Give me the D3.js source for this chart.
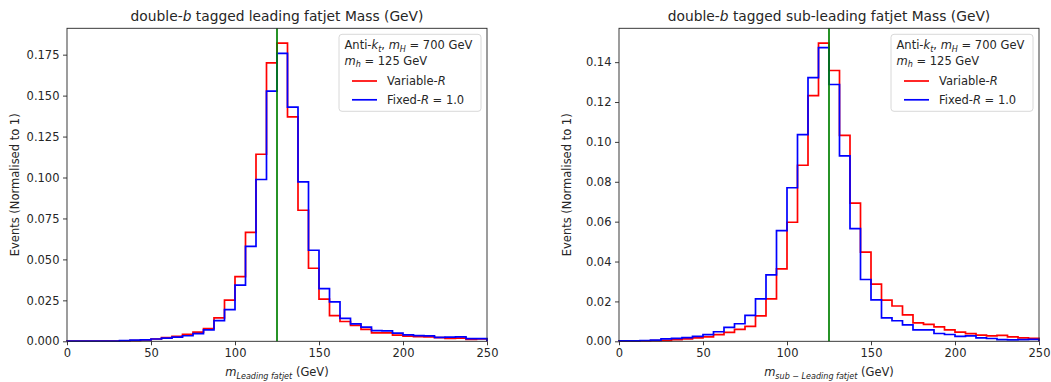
<!DOCTYPE html>
<html>
<head>
<meta charset="utf-8">
<script src="https://cdn.jsdelivr.net/npm/d3@7"></script>
<style>
  body { margin: 0; background: #fff; }
  text { font-family: "DejaVu Sans", sans-serif; fill: #262626; white-space: pre; }
</style>
</head>
<body>
<script>
const width = 1051;
const height = 382;

// histogram: 40 bins of 6.25 GeV from 0 to 250
const binWidth = 6.25;
const xTicks = [0, 50, 100, 150, 200, 250];
const higgsMass = 125;

const leadingVarR = [
  0.0001, 0.0001, 0.0001, 0.0001, 0.0001,
  0.0002, 0.0004, 0.0008, 0.0014, 0.0022,
  0.0030, 0.0042, 0.0056, 0.0078, 0.0143,
  0.0251, 0.0395, 0.0665, 0.1142, 0.1700,
  0.1820, 0.1370, 0.0800, 0.0446, 0.0258,
  0.0157, 0.0121, 0.0097, 0.0073, 0.0052,
  0.0052, 0.0038, 0.0032, 0.0029, 0.0027,
  0.0022, 0.0018, 0.0019, 0.0012, 0.0014
];
const leadingFixedR = [
  0.0001, 0.0001, 0.0001, 0.0001, 0.0001,
  0.0004, 0.0007, 0.0009, 0.0014, 0.0019,
  0.0025, 0.0034, 0.0047, 0.0070, 0.0126,
  0.0193, 0.0343, 0.0580, 0.0988, 0.1527,
  0.1758, 0.1430, 0.0973, 0.0556, 0.0322,
  0.0241, 0.0140, 0.0106, 0.0087, 0.0065,
  0.0064, 0.0050, 0.0039, 0.0035, 0.0033,
  0.0024, 0.0026, 0.0027, 0.0016, 0.0016
];
const subVarR = [
  0.0001, 0.0001, 0.0002, 0.0003, 0.0005,
  0.0008, 0.0012, 0.0017, 0.0022, 0.0033,
  0.0045, 0.0060, 0.0075, 0.0128, 0.0213,
  0.0363, 0.0597, 0.0883, 0.1232, 0.1495,
  0.1358, 0.1033, 0.0693, 0.0447, 0.0287,
  0.0207, 0.0177, 0.0133, 0.0092, 0.0085,
  0.0072, 0.0057, 0.0046, 0.0038, 0.0031,
  0.0027, 0.0030, 0.0022, 0.0017, 0.0015
];
const subFixedR = [
  0.0002, 0.0002, 0.0004, 0.0006, 0.0012,
  0.0015, 0.0018, 0.0025, 0.0033, 0.0048,
  0.0070, 0.0088, 0.0130, 0.0213, 0.0333,
  0.0555, 0.0770, 0.1037, 0.1322, 0.1473,
  0.1288, 0.0930, 0.0565, 0.0310, 0.0208,
  0.0117, 0.0103, 0.0082, 0.0057, 0.0057,
  0.0039, 0.0034, 0.0025, 0.0027, 0.0017,
  0.0014, 0.0008, 0.0007, 0.0008, 0.0010
];
const leadingYTicks = [0, 0.025, 0.05, 0.075, 0.1, 0.125, 0.15, 0.175];
const subYTicks = [0, 0.02, 0.04, 0.06, 0.08, 0.1, 0.12, 0.14];

const svg = d3.select("body").append("svg")
  .attr("width", width)
  .attr("height", height);

// small mathtext helper: parts are [string, kind] with kind "", "i" or "sub"
function rich(sel, parts, size) {
  let shift = 0;
  parts.forEach(([s, k]) => {
    const t = sel.append("tspan").text(s);
    const d = k === "sub" ? size * 0.22 : 0;
    if (d !== shift) { t.attr("dy", d - shift); shift = d; }
    if (k === "i" || k === "sub") t.attr("font-style", "italic");
    if (k === "sub") t.attr("font-size", size * 0.7);
  });
}

function drawPanel(p) {
  const x = d3.scaleLinear().domain([0, 250]).range([p.left, p.right]);
  const yMax = d3.max([...p.red, ...p.blue]) * 1.05;
  const y = d3.scaleLinear().domain([0, yMax]).range([p.bottom, p.top]);
  const g = svg.append("g");

  const stepLine = d3.line().x((d) => x(d[0])).y((d) => y(d[1]));
  const steps = (vals) => {
    const pts = [[0, 0]];
    vals.forEach((v, i) => {
      pts.push([i * binWidth, v]);
      pts.push([(i + 1) * binWidth, v]);
    });
    pts.push([vals.length * binWidth, 0]);
    return pts;
  };

  // axes
  const xAxis = d3.axisBottom(x).tickValues(xTicks).tickSize(4).tickPadding(3.5)
    .tickFormat(d3.format("d"));
  const yAxis = d3.axisLeft(y).tickValues(p.yTicks).tickSize(4).tickPadding(3.5)
    .tickFormat(d3.format(p.fmt));
  g.append("g").attr("transform", `translate(0,${p.bottom})`).call(xAxis);
  g.append("g").attr("transform", `translate(${p.left},0)`).call(yAxis);
  g.selectAll(".tick text").attr("font-size", 11.5).attr("font-family", "DejaVu Sans").attr("fill", "#262626");
  g.selectAll(".tick line").attr("stroke", "#262626").attr("stroke-width", 0.9);
  g.selectAll(".domain").remove();

  // histograms
  g.append("path").attr("d", stepLine(steps(p.red)))
    .attr("fill", "none").attr("stroke", "#ff0000").attr("stroke-width", 1.7);
  g.append("path").attr("d", stepLine(steps(p.blue)))
    .attr("fill", "none").attr("stroke", "#0000ff").attr("stroke-width", 1.7);

  g.append("line")
    .attr("x1", x(higgsMass)).attr("x2", x(higgsMass))
    .attr("y1", p.top).attr("y2", p.bottom)
    .attr("stroke", "#008000").attr("stroke-width", 1.7);

  // frame
  g.append("rect")
    .attr("x", p.left).attr("y", p.top)
    .attr("width", p.right - p.left).attr("height", p.bottom - p.top)
    .attr("fill", "none").attr("stroke", "#262626").attr("stroke-width", 0.9);

  // title
  const title = g.append("text")
    .attr("x", (p.left + p.right) / 2).attr("y", 20.5)
    .attr("text-anchor", "middle").attr("font-size", 13.8);
  rich(title, [["double-", ""], ["b", "i"], [p.title, ""]], 13.8);

  // x label
  const xl = g.append("text")
    .attr("x", (p.left + p.right) / 2).attr("y", 376)
    .attr("text-anchor", "middle").attr("font-size", 11.5);
  rich(xl, [["m", "i"], [p.xsub, "sub"], [" (GeV)", ""]], 11.5);

  // y label
  g.append("text")
    .attr("transform", `translate(${p.left - 48.5},${(p.top + p.bottom) / 2}) rotate(-90)`)
    .attr("text-anchor", "middle").attr("font-size", 11.5)
    .text("Events (Normalised to 1)");

  // legend
  const lx = p.right - 148;
  const ly = p.top + 6;
  const lg = g.append("g").attr("transform", `translate(${lx},${ly})`);
  lg.append("rect").attr("width", 142).attr("height", 77).attr("rx", 3)
    .attr("fill", "#fff").attr("fill-opacity", 0.8)
    .attr("stroke", "#d4d4d4").attr("stroke-width", 0.9);
  const t1 = lg.append("text").attr("x", 5.5).attr("y", 14.7).attr("font-size", 11.5);
  rich(t1, [["Anti-", ""], ["k", "i"], ["t", "sub"], [", ", ""], ["m", "i"], ["H", "sub"], [" = 700 GeV", ""]], 11.5);
  const t2 = lg.append("text").attr("x", 5.5).attr("y", 30.5).attr("font-size", 11.5);
  rich(t2, [["m", "i"], ["h", "sub"], [" = 125 GeV", ""]], 11.5);
  const entries = [
    { color: "#ff0000", parts: [["Variable-", ""], ["R", "i"]] },
    { color: "#0000ff", parts: [["Fixed-", ""], ["R", "i"], [" = 1.0", ""]] }
  ];
  entries.forEach((e, i) => {
    const cy = 46.7 + i * 18.8;
    lg.append("line").attr("x1", 13).attr("x2", 38).attr("y1", cy).attr("y2", cy)
      .attr("stroke", e.color).attr("stroke-width", 1.7);
    const t = lg.append("text").attr("x", 48).attr("y", cy + 4).attr("font-size", 11.5);
    rich(t, e.parts, 11.5);
  });
}

drawPanel({
  left: 67, right: 487, top: 28.3, bottom: 341.3,
  red: leadingVarR, blue: leadingFixedR,
  yTicks: leadingYTicks, fmt: ".3f",
  title: " tagged leading fatjet Mass (GeV)",
  xsub: "Leading fatjet"
});
drawPanel({
  left: 619, right: 1039, top: 28.3, bottom: 341.3,
  red: subVarR, blue: subFixedR,
  yTicks: subYTicks, fmt: ".2f",
  title: " tagged sub-leading fatjet Mass (GeV)",
  xsub: "sub \u2212 Leading fatjet"
});
</script>
</body>
</html>
